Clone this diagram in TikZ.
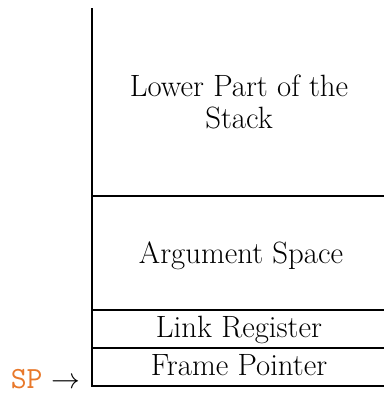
\documentclass[tikz,border=0pt]{standalone}
\usepackage{tikz}
\usepackage{xcolor}
\usetikzlibrary{positioning, calc}
\definecolor{cPtr}{HTML}{E8782A}

\begin{document}
\begin{tikzpicture}[x=0.5pt, y=-0.5pt,
    frame/.style={line width=0.9pt},
    slot/.style={font=\fontsize{15.4}{15.6}\selectfont, align=center, inner sep=0pt},
    ptr/.style={font=\fontsize{15.4}{15}\selectfont, inner sep=0pt, anchor=base east},
  ]
  \useasboundingbox (0,0) rectangle (384,396);
  % stack outline, open at the top and to the right
  \draw[frame] (92,8) -- (92,386) -- (384,386);
  \draw[frame] (92,196) -- (384,196);
  \draw[frame] (92,310) -- (384,310);
  \draw[frame] (92,348) -- (384,348);
  % slot labels (base = last line)
  \node[slot, anchor=base] (lower) at (239,128) {Lower Part of the\\Stack};
  \node[slot, anchor=base] (args) at (241,263) {Argument Space};
  \node[slot, anchor=base] (lr) at (239,337) {Link Register};
  \node[slot, anchor=base] (fp) at (239,375) {Frame Pointer};
  % stack pointer
  \node[ptr] (sp) at (81,388) {\textcolor{cPtr}{\texttt{SP}} $\rightarrow$};
\end{tikzpicture}
\end{document}
